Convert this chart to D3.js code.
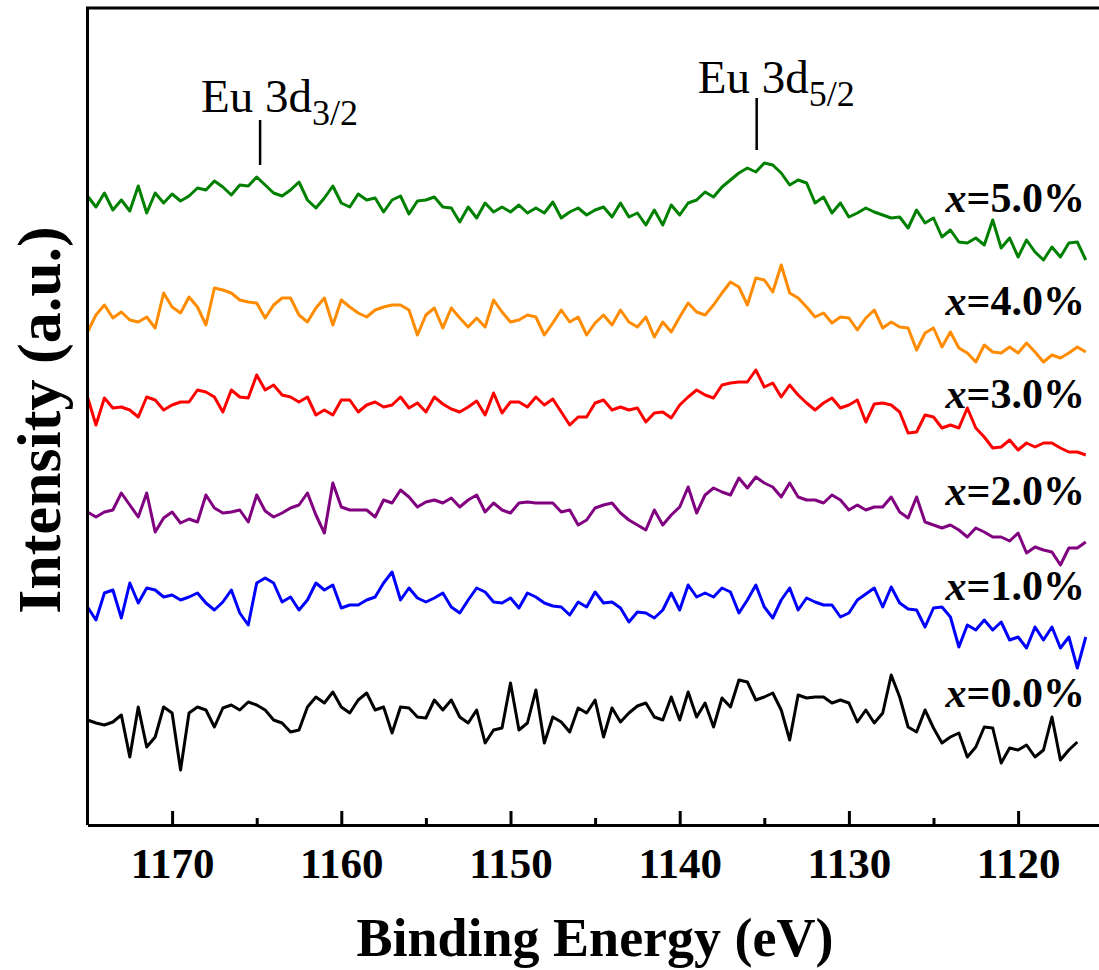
<!DOCTYPE html>
<html><head><meta charset="utf-8">
<script src="https://cdn.jsdelivr.net/npm/d3@7"></script>
<style>body{margin:0;background:#fff}</style>
</head><body><svg id="c" width="1099" height="970"></svg>
<script>
// Binding energy grid (eV), 0.5 eV steps from 1175 down to 1116
const energy = d3.range(1175, 1115.75, -0.5);

// Intensity (a.u., stacked/offset spectra)
const s50 = [629,618,632,615,625,614,639,612,632,622,
 631,624,629,637,635,644,638,630,640,639,
 648,640,632,629,635,643,625,617,627,639,
 622,618,631,625,627,613,625,629,611,624,
 625,628,618,617,603,618,607,622,613,618,
 613,620,612,617,612,623,607,613,617,610,
 615,618,608,622,608,612,600,615,600,620,
 610,622,625,633,628,638,645,652,657,653,
 662,660,652,640,645,642,622,628,612,622,
 608,612,617,613,610,607,608,597,615,602,
 607,588,595,583,582,587,580,605,577,587,
 568,585,573,565,578,568,582,583,565];
const s40 = [493,510,520,507,513,505,503,508,497,532,
 518,512,528,518,500,537,535,532,525,523,
 522,507,520,527,527,510,503,517,527,500,
 525,518,512,508,515,518,520,520,515,490,
 510,517,497,517,507,498,507,498,525,513,
 503,505,510,508,490,502,515,503,508,490,
 502,510,500,515,503,498,508,488,503,493,
 508,522,513,510,520,532,543,538,520,547,
 545,533,560,532,527,518,508,512,502,508,
 507,495,507,515,497,503,498,497,475,492,
 497,478,493,477,472,463,480,473,472,478,
 472,482,473,463,470,467,472,478,473];
const s30 = [428,400,427,417,418,415,408,428,425,415,
 420,423,423,435,433,428,413,435,428,427,
 450,435,440,430,428,423,428,410,415,410,
 425,425,413,420,423,418,420,428,417,422,
 413,428,421,416,413,418,424,410,432,412,
 423,423,418,428,420,426,413,400,408,408,
 422,425,415,418,415,417,403,412,413,407,
 420,428,435,430,427,440,442,443,443,455,
 438,442,428,440,430,422,415,422,427,417,
 420,425,403,421,422,420,413,392,393,410,
 408,397,400,397,417,397,388,377,378,385,
 375,382,378,382,382,377,373,373,370];
const s20 = [313,308,313,315,332,320,308,332,293,307,
 313,302,306,303,330,317,312,313,315,303,
 330,314,308,312,317,320,332,310,292,342,
 318,315,315,315,308,325,322,335,328,318,
 323,325,322,327,318,325,330,313,322,315,
 312,322,323,322,322,322,313,315,300,305,
 317,320,322,312,305,300,295,315,300,310,
 318,338,312,330,337,333,330,347,337,348,
 342,338,328,342,328,325,325,322,330,325,
 315,320,315,318,318,328,313,307,328,303,
 300,297,300,295,288,297,293,288,288,284,
 292,272,278,275,273,260,277,277,283];
const s10 = [218,205,232,235,207,242,222,237,235,228,
 230,225,228,232,222,215,223,235,212,200,
 242,247,242,223,228,215,225,242,235,240,
 217,220,220,225,228,242,253,225,237,227,
 223,227,232,218,212,225,237,233,223,222,
 227,217,232,228,222,219,218,210,223,218,
 233,222,223,217,203,213,212,207,215,232,
 215,240,228,232,228,237,233,212,225,240,
 218,207,225,237,215,227,223,220,220,208,
 212,225,231,237,218,238,222,216,215,198,
 217,218,208,178,200,195,205,195,203,185,
 188,177,198,185,198,177,188,157,188];
const s00 = [105,102,100,103,110,68,118,78,88,118,
 112,55,112,118,115,98,117,120,115,123,
 120,115,105,102,93,95,118,128,122,133,
 118,112,125,132,115,118,92,118,117,108,
 107,125,115,125,108,102,115,82,95,97,
 142,95,102,135,82,108,103,93,117,112,
 125,88,117,103,112,119,122,108,105,128,
 105,133,108,122,98,127,118,145,143,125,
 128,132,115,85,130,127,128,128,122,125,
 122,103,115,102,112,150,128,98,93,115,
 97,82,88,92,68,78,98,97,62,77,
 75,80,68,75,108,65,75,83];

const seriesNames = ["0.0%","1.0%","2.0%","3.0%","4.0%","5.0%"];
const seriesValues = [s00, s10, s20, s30, s40, s50];
const seriesColors = ["#000000","#0000ff","#800080","#ff0000","#ff8c00","#008000"];
const labelLevels = [118, 225, 320, 417, 510, 613];   // label baseline heights (a.u.)

const majorTicks = [1170,1160,1150,1140,1130,1120];
const minorTicks = [1165,1155,1145,1135,1125];

const peakNames = ["3/2","5/2"];
const peakEnergies = [1164.8, 1135.45];

// ---- layout ----
const L = 87.5, T = 8, B = 825;
const svg = d3.select("#c");
const x = d3.scaleLinear().domain([1175, 1115]).range([L, L + 60*16.92]);
const y = d3.scaleLinear().domain([0, 817]).range([B, T]);
const FONT = "'Liberation Serif','Times New Roman',serif";

// lines
const line = d3.line().x(d => x(d[0])).y(d => y(d[1])).curve(d3.curveLinear);
seriesValues.forEach((vals, k) => {
  const pts = vals.map((v, i) => [energy[i], v]);
  svg.append("path").datum(pts)
    .attr("d", line).attr("fill","none")
    .attr("stroke", seriesColors[k]).attr("stroke-width", 3)
    .attr("stroke-linejoin","round");
});

// frame
const xr = x(1115);
svg.append("path").attr("d", `M${L},${B}V${T}H${xr}V${B}`)
  .attr("fill","none").attr("stroke","#000").attr("stroke-width",3);

// x axis
const ax = svg.append("g").attr("transform", `translate(0,${B})`)
  .call(d3.axisBottom(x).tickValues(majorTicks).tickSize(-14).tickSizeOuter(0).tickPadding(22).tickFormat(d3.format("d")));
ax.select(".domain").attr("stroke-width",3);
ax.selectAll(".tick line").attr("stroke-width",3);
ax.selectAll("text").attr("font-family",FONT).attr("font-weight","bold").attr("font-size",43).attr("fill","#000");
const axm = svg.append("g").attr("transform", `translate(0,${B})`)
  .call(d3.axisBottom(x).tickValues(minorTicks).tickSize(-7).tickSizeOuter(0).tickFormat(""));
axm.select(".domain").remove();
axm.selectAll(".tick line").attr("stroke-width",3);

// axis titles
svg.append("text").attr("x", 595).attr("y", 956).attr("text-anchor","middle")
  .attr("font-family",FONT).attr("font-weight","bold").attr("font-size",54)
  .text("Binding Energy (eV)");
svg.append("text").attr("transform","translate(60,420) rotate(-90)").attr("text-anchor","middle")
  .attr("font-family",FONT).attr("font-weight","bold").attr("font-size",62)
  .text("Intensity (a.u.)");

// series labels
seriesNames.forEach((n, k) => {
  const t = svg.append("text").attr("x", 1085).attr("y", y(labelLevels[k]))
    .attr("text-anchor","end").attr("font-family",FONT).attr("font-weight","bold")
    .attr("font-size",42).attr("fill","#000");
  t.append("tspan").attr("font-style","italic").text("x");
  t.append("tspan").text("=" + n);
});

// peak annotations
const annY = [[112, 120, 165], [93, 98, 150]];
peakEnergies.forEach((e, k) => {
  const px = x(e);
  svg.append("line").attr("x1",px).attr("x2",px).attr("y1",annY[k][1]).attr("y2",annY[k][2])
    .attr("stroke","#000").attr("stroke-width",2.5);
  const t = svg.append("text").attr("x", px - 59).attr("y", annY[k][0])
    .attr("font-family",FONT).attr("font-size",47).attr("fill","#000");
  t.append("tspan").text("Eu 3d");
  t.append("tspan").attr("dy",13).attr("font-size",36).text(peakNames[k]);
});
</script></body></html>
